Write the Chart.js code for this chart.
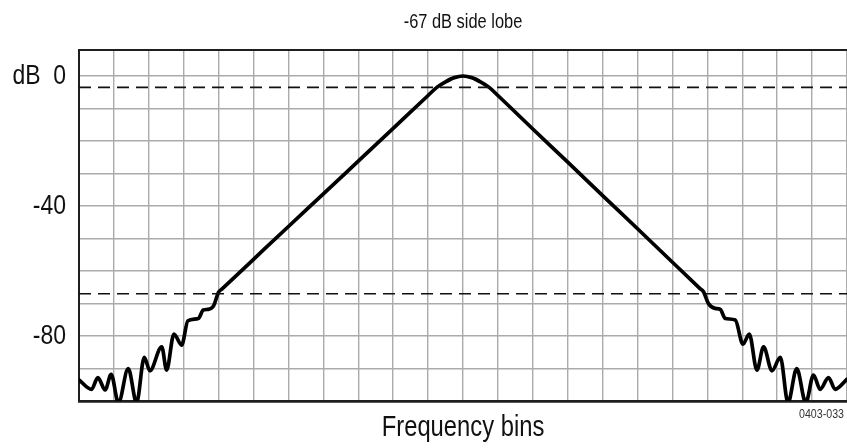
<!DOCTYPE html>
<html>
<head>
<meta charset="utf-8">
<script src="https://cdn.jsdelivr.net/npm/chart.js@4.4.1/dist/chart.umd.min.js"></script>
<style>
  html, body { margin: 0; padding: 0; background: #ffffff; }
  #wrap { width: 847px; height: 448px; }
</style>
</head>
<body>
<div id="wrap"><canvas id="c" width="847" height="448"></canvas></div>
<script>
// ---- data ----
const chartTitle = '-67 dB side lobe';
const xAxisTitle = 'Frequency bins';
const figureCode = '0403-033';

// Frequency position (in bins) and level (dB) of the traced window response
const freqBins = [
  0, 0.36, 0.54, 0.75, 0.92, 1.13, 1.41, 1.65, 1.87, 2.03, 2.37, 2.51, 2.72, 2.94, 3.12, 3.42, 3.56, 3.70, 3.85, 4.0, 4.1,
  5.0, 6.0, 7.0, 8.0, 9.0, 10.0, 10.25, 10.5, 10.75, 11.0, 11.25, 11.5, 11.75, 12.0,
  13.0, 14.0, 15.0, 16.0, 17.0, 17.79, 17.89,
  18.03, 18.22, 18.37, 18.51, 18.80, 19.02, 19.20, 19.42, 19.61, 19.85, 20.09, 20.31, 20.56, 20.82, 21.04, 21.23, 21.47, 21.66, 22.0
];
const levelDb = [
  -93.5, -96.4, -92.8, -96.6, -91.8, -100.5, -90, -100.5, -86.6, -90.7, -83.3, -90.5, -79.4, -82.8, -75.3, -74.6, -72, -71.8, -70.8, -66.5, -65.5,
  -56.4, -46.3, -36.3, -26.2, -16.1, -6, -3.5, -1.8, -0.5, 0, -0.5, -1.8, -3.5, -6,
  -16.3, -26.5, -36.8, -47, -57.3, -65.4, -66.4,
  -70, -71.5, -71.8, -74.6, -75.1, -82.5, -79.4, -90.5, -83.3, -90.7, -86.6, -100.5, -90, -100.5, -92, -96.4, -92.8, -96.4, -93.3
];

// Reference (dashed) levels
const refLevels = [-3.5, -67];

// Axes
const xMin = 0, xMax = 22, xStep = 1;
const yMin = -100, yMax = 8, yStep = 10;
const yLabels = { '0': 'dB  0', '-40': '-40', '-80': '-80' };

// ---- narrow (condensed) rendering of the Helvetica-like text ----
const NARROW = 0.82;
const origFill = CanvasRenderingContext2D.prototype.fillText;
CanvasRenderingContext2D.prototype.fillText = function (text, x, y, maxWidth) {
  if (String(this.font).indexOf('Liberation Sans') >= 0) {
    this.save();
    this.translate(x, y);
    this.scale(NARROW, 1);
    if (maxWidth !== undefined && maxWidth !== null) origFill.call(this, text, 0, 0, maxWidth / NARROW);
    else origFill.call(this, text, 0, 0);
    this.restore();
    return;
  }
  if (maxWidth !== undefined && maxWidth !== null) origFill.call(this, text, x, y, maxWidth);
  else origFill.call(this, text, x, y);
};

// ---- chart ----
const FONT = "'Liberation Sans', Arial, sans-serif";
const GRID = '#ababab';
const DARK = '#1e1e1e';

const curve = freqBins.map((x, i) => ({ x: x, y: levelDb[i] }));
const dashedSets = refLevels.map(v => ({
  data: [{ x: xMin, y: v }, { x: xMax, y: v }],
  borderColor: '#111111',
  borderWidth: 1.6,
  borderDash: [12, 7],
  pointRadius: 0,
  tension: 0
}));

const codePlugin = {
  id: 'figureCode',
  afterDraw(chart) {
    const ctx = chart.ctx;
    ctx.save();
    ctx.font = "13px " + FONT;
    ctx.fillStyle = '#333333';
    ctx.textAlign = 'right';
    ctx.textBaseline = 'alphabetic';
    ctx.fillText(figureCode, 844, 418);
    ctx.restore();
  }
};

const bgPlugin = {
  id: 'bg',
  beforeDraw(chart) {
    const ctx = chart.ctx;
    ctx.save();
    ctx.fillStyle = '#ffffff';
    ctx.fillRect(0, 0, chart.width, chart.height);
    ctx.restore();
  }
};

new Chart(document.getElementById('c'), {
  type: 'line',
  data: {
    datasets: [
      ...dashedSets,
      {
        data: curve,
        borderColor: '#000000',
        borderWidth: 3.7,
        pointRadius: 0,
        cubicInterpolationMode: 'monotone',
        borderJoinStyle: 'round',
        borderCapStyle: 'round'
      }
    ]
  },
  options: {
    responsive: false,
    devicePixelRatio: 1,
    animation: false,
    events: [],
    layout: { padding: 0 },
    plugins: { legend: { display: false }, tooltip: { enabled: false }, title: { display: false } },
    scales: {
      x: {
        type: 'linear',
        position: 'bottom',
        min: xMin, max: xMax,
        ticks: { display: false, stepSize: xStep },
        grid: {
          drawTicks: false,
          color: ctx => (ctx.tick && ctx.tick.value === xMin) ? DARK : GRID,
          lineWidth: ctx => (ctx.tick && ctx.tick.value === xMin) ? 2 : 1.4
        },
        border: { display: true, color: DARK, width: 2.5 },
        title: {
          display: true, text: xAxisTitle, color: '#111111',
          font: { family: FONT, size: 29 }, padding: { top: 0, bottom: 3 }
        },
        afterFit(scale) { scale.height = 47; }
      },
      xTop: {
        type: 'linear',
        position: 'top',
        min: xMin, max: xMax,
        ticks: { display: false },
        grid: { display: false, drawTicks: false },
        border: { display: false },
        title: {
          display: true, text: chartTitle, color: '#111111',
          font: { family: FONT, size: 20 }, padding: { top: 10, bottom: 0 }
        },
        afterFit(scale) { scale.height = 50; }
      },
      y: {
        type: 'linear',
        min: yMin, max: yMax,
        afterBuildTicks(scale) {
          const t = [];
          for (let v = yMin; v <= 0; v += yStep) t.push({ value: v });
          t.push({ value: yMax });
          scale.ticks = t;
        },
        ticks: {
          autoSkip: false,
          padding: 13,
          color: '#111111',
          font: { family: FONT, size: 28 },
          callback: v => (yLabels[String(v)] !== undefined ? yLabels[String(v)] : '')
        },
        grid: {
          drawTicks: false,
          color: ctx => (ctx.tick && (ctx.tick.value === yMax || ctx.tick.value === yMin)) ? DARK : GRID,
          lineWidth: ctx => (ctx.tick && ctx.tick.value === yMax) ? 2 : (ctx.tick && ctx.tick.value === yMin ? 2.5 : 1.4)
        },
        border: { display: true, color: DARK, width: 2 },
        afterFit(scale) { scale.width = 79; }
      }
    }
  },
  plugins: [bgPlugin, codePlugin]
});
</script>
</body>
</html>
